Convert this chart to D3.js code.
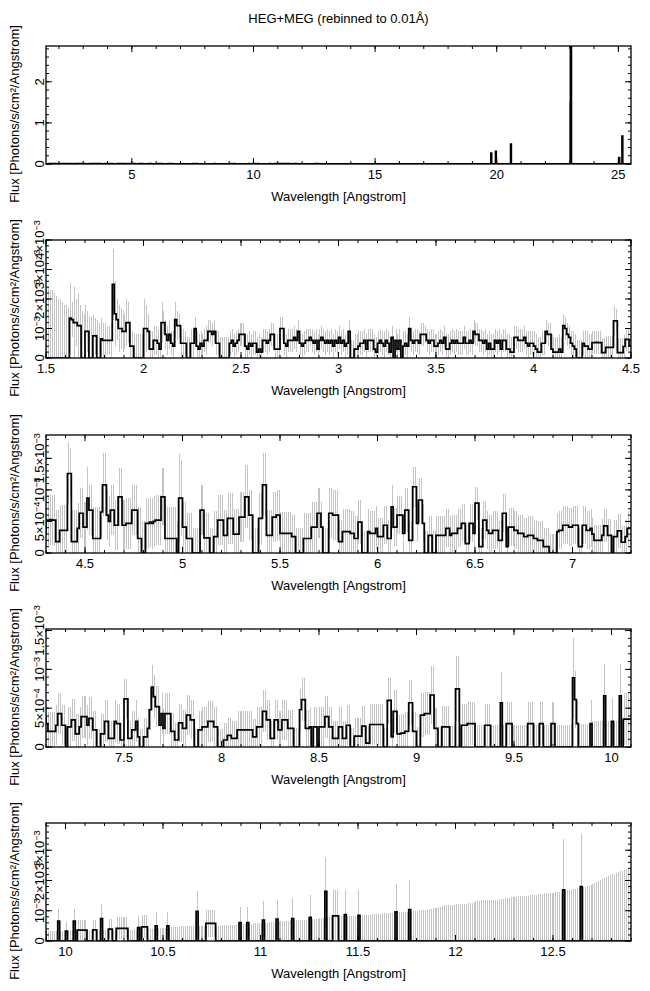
<!DOCTYPE html>
<html><head><meta charset="utf-8">
<script src="https://cdn.jsdelivr.net/npm/d3@7"></script>
<style>
body{margin:0;background:#fff}
svg{display:block}
text{font-family:"Liberation Sans",Arial,Helvetica,sans-serif;fill:#000}
</style>
</head><body>
<svg id="c" width="650" height="991"></svg>
<script>
// ---------------- DATA (flux and 1-sigma error, units of 1e-4 photons/s/cm^2/Angstrom) ----------------
const BIN = 0.01;
const UNIT = 1e-4;

// 1.50 – 4.29 Angstrom
const segAStart = 1.50;
const segAFlux = [
0,0,0,0,0,0,0,0,0,0, 0,0,13.5,13,12,12,11,11,0,0, 9,9,0,0,7.5,7.5,0,0,6.5,6, 6,6,6,6,25,15,13,10,10,9,
9,12,12,4,4,0,0,0,0,0, 10,10,9,3,3,6,6,5,3,12, 12,8,6,8,5,4,13,11,11,5, 5,5,0,0,5,5,10,4,3,5,
4,6,6,9,9,8,9,5,5,0, 0,0,0,0,5,6,4,5,6,8, 8,8,4,3,5,4,5,5,2,3, 2,6,6,5,6,8,8,3,3,3,
10,10,5,4,6,6,6,7,6,9, 5,4,5,6,6,7,6,5,6,3, 6,7,6,5,6,5,6,4,6,5, 7,5,6,4,5,9,0,0,3,3,
4,5,5,6,3,6,6,6,3,2, 5,6,5,4,6,5,2,7,0,6, 3,6,0,4,5,4,10,6,5,6, 6,5,8,8,8,6,5,6,6,4,
4,5,6,5,7,3,3,5,6,5, 6,5,5,5,7,5,5,6,5,9, 8,8,6,6,5,6,3,5,3,3, 6,5,6,3,6,6,3,3,2,2,
7,7,6,6,6,7,5,4,5,5, 4,3,2,2,5,5,9,8,8,3, 2,2,2,3,2,11,10,8,7,5, 4,3,0,0,0,5,4,4,3,3];
const segAErr = [
24,24,23,23,22,21,20,20,19,18, 18,17,12,6,12,8,11,7,16,15, 9,7,14,14,7,6,13,12,7,6, 6,5,5,6,12,11,7,8,7,7,
6,8,7,6,5,8,8,8,8,8, 10,8,6,6,6,5,5,5,6,7, 4,5,5,5,4,5,6,5,4,5, 5,4,7,7,5,5,4,5,5,4,
4,4,5,4,4,4,4,4,4,7, 7,7,7,7,4,4,4,4,4,4, 4,4,4,5,4,4,4,4,5,5, 5,4,4,4,4,4,4,5,5,5,
4,4,4,4,4,4,4,4,4,4, 4,4,4,4,4,3,4,4,4,5, 4,4,4,4,4,4,4,4,4,4, 4,4,4,4,4,4,6,6,5,5,
5,4,4,4,5,4,4,4,5,5, 4,4,4,5,4,4,5,4,6,4, 5,4,6,5,4,4,4,4,4,4, 4,4,4,4,3,4,4,4,4,4,
4,4,4,4,4,5,5,4,4,4, 4,4,4,4,4,4,4,4,4,4, 4,4,4,4,4,4,5,4,5,5, 4,4,4,5,4,4,5,5,5,5,
4,4,4,4,4,4,4,5,4,4, 5,5,5,5,4,4,4,4,4,5, 5,5,5,5,5,4,4,4,4,4, 5,5,6,6,6,4,5,5,5,5];

// 4.30 – 7.09 Angstrom
const segBStart = 4.30;
const segBFlux = [
5.2,5.2,5.3,5.2,5.2,1.8,1.8,3.6,3.6,3.6, 3.6,12.6,12.6,1.8,1.8,1.8,3.9,6.3,6.3,4.1,
4.1,8.7,6.8,6.8,2.3,2.3,2.3,2.3,6.5,10.8, 10.8,6,5,6.8,6.8,4.4,4.4,8.9,8.9,4.4,
4.4,4.7,4.7,4.7,6.8,6.8,6.8,2.3,2.3,0, 0,4.7,4.7,4.9,4.7,5,5.2,5.2,5.2,8.9,
8.9,2.3,2.3,2.3,2.3,2.3,2.3,0,8.7,8.7, 4.1,4.1,2.3,2.3,2.3,0,0,0,0,6.8,
6.8,2.4,2.4,2.4,0,0,2.6,2.6,5.2,5.2, 5.2,2.8,2.8,5.5,5.5,5.5,3,3,3,5.7,
5.7,5.7,8.9,8.9,6,6,0,0,0,5.5, 5.5,10.8,10.8,2.8,2.8,2.8,5.7,5.7,6,6,
3.1,3.1,3.1,3.1,3.1,3.1,2.6,2.6,0,0, 0,0,2.3,2.3,2.3,2.3,4.1,4.1,4.1,6.3,
6.3,4.1,0,0,0,6.3,6.3,6,6,6, 1.8,1.8,3.4,3.4,3.4,3.4,3.1,3.1,2.3,2.3,
4.9,4.9,0,0,0,3.4,3.1,3.1,3.1,3.9, 2.6,2.6,2.6,4.4,4.4,2.3,2.3,7.3,4.1,4.1,
6,6,6,3.1,6.8,6.8,2,2,10.5,10.5, 4.7,8.4,8.4,4.7,0,0,2.8,2.8,0,0,
2.8,2.8,2.8,2.8,2.8,3.9,3.9,2.8,3.1,3.1, 3.1,3.9,3.9,4.7,4.7,1.5,1.5,4.7,4.7,3.1,
7.9,7.9,1,1,5.2,5.2,3.6,3.1,3.1,3.6, 3.6,3.6,2,2,6.3,6.3,1,4.1,4.1,4.1,
3.6,3.6,3.1,3.1,3.1,2.6,2.6,2.8,2.8,2.8, 2.3,2.3,2,2,2,1,1,1,0,0,
0,0,3.4,3.6,3.6,4.4,4.4,4.4,4.1,4.1, 4.4,4.4,4.4,1,1,4.4,4.4,3.6,3.6,3.9];
const segBErr = [
4,4,4,4,4,5,5,4,4,4, 4,5,4,5,5,5,4,4,4,4, 4,5,4,4,5,5,5,5,4,5, 5,4,4,4,4,4,4,4.6,4.6,4,
4,4,4,4,4,4,4,5,5,5, 5,4,4,4,4,4,4,4,4,4.5, 4.5,5,5,5,5,5,5,5,7,6, 4,4,4,4,4,4,4,4,4,4,
4,4,4,4,4,4,4,4,4,4, 4,4,4,4,4,4,4,4,4,4, 4,4,5,5,4,4,4,4,4,4, 4,5,5,4,4,4,4,4,4,4,
3.4,3.4,3.4,3.4,3.4,3.4,3.5,3.5,4,4, 4,4,4,4,4,4,4,4,4,4, 4,4,4,4,4,4,4,4,4,4,
3.5,3.5,3.5,3.5,3.5,3.5,3.5,3.5,3.5,3.5, 3.5,3.5,3.5,3.5,3.5,3.5,3.5,3.5,3.5,3.5,
3,3,3,3,3,3,3,3.5,3,3, 3,3,3,3,3.5,3.5,3,3,3.2,3.2, 3,3.5,3.5,3,3.5,3.5,3,3,3.5,3.5,
3,3,3,3,3,3,3,3,3,3, 3,3,3,3,3,3,3,3,3,3, 2.6,2.6,3,3,3,3,3,3,3,3,
3,3,3,3,3,3,3,3,3,3, 3,3,3,3,3,3,3,3,3,3, 3,3,3,3,3,3,3,3,3,3,
3,3,3,3,3,3,3,3,3,3, 3,3,3,3,3,3,3,3,3,3];

// 7.10 – 9.89 Angstrom
const segCStart = 7.10;
const segCFlux = [
3,2,2,2,2,2.8,4.3,4.3,2.8,2.8, 0,2.6,2.6,3.5,3.5,1.7,1.7,2.6,3.9,3.9, 3.9,2.8,3.7,3.7,2.2,2.2,0,0,1.7,1.7,
3.3,3.3,1.1,1.1,1.1,3.3,3,3,0.9,0.9, 6.2,6.2,1.1,1.1,2.2,2.2,3.3,1.3,0,0, 1.3,1.3,2.4,4.8,7.7,6.5,5.2,5.2,2.8,4.3,
2.4,4.3,4.3,4.3,2,2,0.9,0.9,3.1,3.1, 2.4,2.4,4.1,4.1,3.5,3.5,0,0,2.2,2.2, 2.6,2.6,2.6,3.3,3.3,3.3,2.6,2.6,0,0,
0,0.9,0.9,1.5,1.5,1.1,1.1,1.1,2.2,2.2, 2.2,2.2,2.2,2.2,2.2,2.2,1.3,1.3,2.6,2.6, 2.6,4.6,4.6,3.5,3.5,1.1,1.1,3.5,3.5,2.2,
2.2,3.5,3.5,3.5,2.4,2.4,2.4,0,0,0, 4.8,6.1,6.1,2.4,2.4,2.6,0,2.6,2.6,0, 2.6,2.6,2.6,3.9,3.9,2.6,2.6,1.1,1.1,1.1,
2.6,2.6,1.1,1.1,2.8,2.8,0,0,1.4,1.4, 1.4,1.4,2.7,2.7,0.5,0.5,2.9,2.9,2.9,2.9, 2.9,2.9,2.9,0,0,6,6,1.3,4.6,4.6,
1.7,1.7,1.8,1.8,2,2,5.7,5.7,2,2, 0,0,4.1,4.1,4.3,4.3,4.3,6.7,6.7,2.4, 2.4,0,0,2.6,2.6,2.6,2.6,0,0,0,
7.5,7.5,0,2.8,2.8,2.8,3,3,3,3, 0,0,0,0,0,2.8,2.8,2.8,0,0, 0,0,0,5.7,0,0,3,3,3,0,
0,0,0,0,0,0,0,3,3,3, 0,0,0,3,3,0,0,0,0,3, 3,0,0,0,0,0,0,0,0,0, 8.9,6.1,3,0,0,0,0,0,0,3];
const segCErr = [
2.5,2.5,2.5,2.5,2.5,2.6,2.6,2.6,2.6,2.6, 2.3,2.6,2.6,2.7,2.7,2.5,2.5,2.6,2.7,2.7, 2.7,2.6,2.7,2.7,2.5,2.5,2.3,2.3,2.5,2.5,
2.7,2.7,2.3,2.3,2.3,2.7,2.6,2.6,2.2,2.2, 2.6,2.5,2.3,2.3,2.5,2.5,2.7,2.4,2.3,2.3, 2.4,2.4,2.5,2.8,2.9,2.8,2.6,2.6,2.5,2.6,
2.5,2.6,2.6,2.6,2.4,2.4,2.2,2.2,2.5,2.5, 2.4,2.4,2.6,2.6,2.5,2.5,2.3,2.3,2.4,2.4, 2.5,2.5,2.5,2.6,2.6,2.6,2.5,2.5,2.3,2.3,
2.3,2.2,2.2,2.3,2.3,2.2,2.2,2.2,2.4,2.4, 2.4,2.4,2.4,2.4,2.4,2.4,2.3,2.3,2.5,2.5, 2.5,2.7,2.7,2.6,2.6,2.3,2.3,2.6,2.6,2.4,
2.4,2.6,2.6,2.6,2.4,2.4,2.4,2.4,2.4,2.4, 2.7,2.8,2.8,2.4,2.4,2.5,2.4,2.5,2.5,2.4, 2.5,2.5,2.5,2.7,2.7,2.5,2.5,2.3,2.3,2.3,
2.5,2.5,2.3,2.3,2.6,2.6,2.4,2.4,2.3,2.3, 2.3,2.3,2.6,2.6,2.2,2.2,2.6,2.6,2.6,2.6, 2.6,2.6,2.6,2.5,2.5,2.9,2.9,2.3,2.8,2.8,
2.4,2.4,2.4,2.4,2.5,2.5,2.9,2.9,2.5,2.5, 2.6,2.6,2.8,2.8,2.8,2.8,2.8,3.7,3.7,2.6, 2.6,2.6,2.6,2.7,2.7,2.7,2.7,2.7,2.7,2.7,
4.2,4.2,2.7,2.7,2.7,2.7,2.8,2.8,2.8,2.8, 2.8,2.8,2.8,2.8,2.8,2.7,2.7,2.7,2.8,2.8, 2.8,2.8,2.8,3.9,2.8,2.8,2.8,2.8,2.8,2.8,
2.8,2.8,2.8,2.8,2.8,2.8,2.8,2.8,2.8,2.8, 2.8,2.8,2.8,2.8,2.8,2.8,2.8,2.8,2.8,2.8, 2.8,2.8,2.8,2.8,2.8,2.8,2.8,2.8,2.8,2.9,
5.1,3.7,2.9,2.9,2.9,2.9,2.9,2.9,2.9,3];

// 9.90 – 12.89 Angstrom
const segDStart = 9.90;
const segDFlux = [
0,0,0,0,0,0,6.6,0,0,0, 3.3,0,0,0,6.6,0,3.6,3.6,3.6,3.6, 3.6,0,0,0,3.7,3.7,0,0,7.4,0,
0,0,3.9,3.9,0,0,4.2,4.2,4.2,4.2, 4.2,4.2,0,0,0,0,0,4.4,0,4.7, 4.7,4.7,0,0,0,0,5,0,0,0,
0,0,5,0,0,0,0,0,0,0, 0,0,0,0,0,0,0,9.8,0,0, 0,0,5.8,5.8,5.8,5.8,5.8,0,0,0,
0,0,0,0,0,0,0,0,0,6.1, 0,0,0,6.1,0,0,0,0,0,0, 0,6.9,0,0,0,0,0,0,7.2,0,
0,0,0,0,0,0,7.4,0,0,0, 0,0,0,0,0,7.8,0,0,0,0, 0,0,0,16.4,0,0,0,8.3,8.3,8.3,
0,0,0,8.7,0,0,0,0,0,0, 8.5,0,0,0,0,0,0,0,0,0, 0,0,0,0,0,0,0,0,0,9.6,
0,0,0,0,0,0,10.4,0,0,0, 0,0,0,0,0,0,0,0,0,0, 0,0,0,0,0,0,0,0,0,0,
0,0,0,0,0,0,0,0,0,0, 0,0,0,0,0,0,0,0,0,0, 0,0,0,0,0,0,0,0,0,0,
0,0,0,0,0,0,0,0,0,0, 0,0,0,0,0,0,0,0,0,0, 0,0,0,0,0,16.9,0,0,0,0,
0,0,0,0,18,0,0,0,0,0, 0,0,0,0,0,0,0,0,0,0, 0,0,0,0,0,0,0,0,0,0];
const segDErr = [
3.3,3.3,3.3,3.3,3.3,3.3,4.1,3.3,3.4,3.4, 3.0,3.4,3.4,3.4,4.1,3.5,3.3,3.3,3.3,3.3, 3.3,3.5,3.5,3.6,3.3,3.3,3.6,3.6,4.9,3.6,
3.7,3.7,3.4,3.4,3.7,3.7,3.6,3.6,3.6,3.6, 3.6,3.6,3.8,3.8,3.8,3.9,3.9,3.7,3.9,3.8, 3.8,3.8,4.0,4.0,4.1,4.1,4.6,4.2,4.2,4.3,
4.3,4.4,4.5,4.4,4.5,4.6,4.7,4.7,4.7,4.8, 4.8,4.8,4.8,4.8,4.9,4.9,4.9,6.6,5.0,5.0, 5.0,5.0,4.4,4.4,4.4,4.4,4.4,5.1,5.1,5.2,
5.2,5.2,5.3,5.3,5.3,5.4,5.4,5.4,5.5,5.2, 5.5,5.6,5.6,5.1,5.7,5.7,5.8,5.8,5.9,5.9, 6.0,6.2,6.1,6.1,6.2,6.3,6.3,6.4,6.4,6.5,
6.5,6.6,6.6,6.7,6.7,6.8,6.9,6.8,6.9,6.9, 7.0,7.0,7.1,7.1,7.2,7.5,7.3,7.3,7.4,7.4, 7.5,7.6,7.7,11.5,8.0,8.1,8.2,8.4,8.4,8.4,
8.3,8.3,8.3,8.0,8.4,8.4,8.4,8.4,8.4,8.4, 8.2,8.5,8.5,8.5,8.6,8.6,8.7,8.8,8.8,8.9, 9.0,9.0,9.1,9.1,9.2,9.2,9.3,9.3,9.4,9.3,
9.4,9.5,9.5,9.6,9.6,9.7,9.9,9.8,9.9,10.0, 10.0,10.1,10.2,10.3,10.4,10.5,10.6,10.7,10.8,10.9, 11.0,11.1,11.2,11.5,11.8,11.9,12.0,12.0,12.0,12.0,
12.1,12.1,12.1,12.2,12.2,12.3,12.4,12.5,12.6,12.8, 13.2,13.3,13.3,13.4,13.4,13.4,13.5,13.5,13.5,13.6, 13.7,13.7,13.8,13.9,14.0,14.1,14.2,14.3,14.4,14.5,
14.6,14.7,14.8,14.8,14.9,14.9,15.0,15.0,15.1,15.1, 15.2,15.3,15.4,15.5,15.6,15.7,15.8,15.8,15.9,15.9, 16.0,16.1,16.2,16.3,16.4,16.8,16.6,16.7,16.8,16.9,
17.1,17.2,17.4,17.5,17.3,17.7,17.9,18.1,18.3,18.6, 19.0,19.2,19.5,19.8,20.1,20.4,20.8,21.1,21.4,21.7, 22.0,22.3,22.6,22.9,23.1,23.3,23.5,23.7,23.9,24.1];

// Strong lines seen in the full-range panel (photons/s/cm^2/Angstrom)
const lineWave = [19.77, 19.96, 20.58, 23.03, 23.04, 23.05, 25.03, 25.16];
const lineFlux = [0.26, 0.30, 0.48, 1.5, 2.87, 2.87, 0.15, 0.67];
const fullStart = 1.50, fullEnd = 25.50;

// Panel axes
const xDomains = [[1.47, 25.52], [1.5, 4.5], [4.3, 7.3], [7.1, 10.1], [9.9, 12.9]];
const yMax = [2.87, 4.0e-3, 1.87e-3, 1.52e-3, 3.9e-3];
const xTickVals = [[5,10,15,20,25],[1.5,2,2.5,3,3.5,4,4.5],[4.5,5,5.5,6,6.5,7],[7.5,8,8.5,9,9.5,10],[10,10.5,11,11.5,12,12.5]];
const xTickLabels = [["5","10","15","20","25"],["1.5","2","2.5","3","3.5","4","4.5"],["4.5","5","5.5","6","6.5","7"],["7.5","8","8.5","9","9.5","10"],["10","10.5","11","11.5","12","12.5"]];
const xMinorStep = [1, 0.1, 0.1, 0.1, 0.1];
const yTickVals = [[0,1,2],[0,1e-3,2e-3,3e-3,4e-3],[0,5e-4,1e-3,1.5e-3],[0,5e-4,1e-3,1.5e-3],[0,1e-3,2e-3,3e-3]];
const yTickLabels = [["0","1","2"],["0","10^\u22123","2\u00d710^\u22123","3\u00d710^\u22123","4\u00d710^\u22123"],
  ["0","5\u00d710^\u22124","10^\u22123","1.5\u00d710^\u22123"],["0","5\u00d710^\u22124","10^\u22123","1.5\u00d710^\u22123"],
  ["0","10^\u22123","2\u00d710^\u22123","3\u00d710^\u22123"]];
const yMinorStep = [0.2, 2e-4, 1e-4, 1e-4, 2e-4];
const titleText = "HEG+MEG (rebinned to 0.01\u00c5)";
const xLabelText = "Wavelength [Angstrom]";
const yLabelText = "Flux [Photons/s/cm\u00b2/Angstrom]";

// ---------------- BUILD ----------------
const r2 = v => Math.round(v * 100) / 100;
const spectrum = [];
[[segAStart, segAFlux, segAErr],[segBStart, segBFlux, segBErr],[segCStart, segCFlux, segCErr],[segDStart, segDFlux, segDErr]]
  .forEach(([s, f, e]) => f.forEach((v, i) => spectrum.push({w: r2(s + i * BIN), f: v * UNIT, e: e[i] * UNIT})));
const specMap = new Map(spectrum.map(b => [b.w.toFixed(2), b]));
const lineMap = new Map(lineWave.map((w, i) => [w.toFixed(2), lineFlux[i]]));
const fullBins = d3.range(Math.round((fullEnd - fullStart) / BIN)).map(i => {
  const w = r2(fullStart + i * BIN), k = w.toFixed(2);
  if (lineMap.has(k)) return {w, f: lineMap.get(k), e: 0};
  if (specMap.has(k)) return specMap.get(k);
  return {w, f: 0, e: 0};
});

const svg = d3.select("#c");
const L = 46, R = 631, PH = 118;
const tops = [46, 240, 435, 629, 823];
const FS = 13;

svg.append("text").attr("x", (L + R) / 2).attr("y", 23).attr("text-anchor", "middle")
  .attr("font-size", FS).text(titleText);

function addLabel(g, str, x, y) {
  const t = g.append("text").attr("transform", `translate(${x},${y}) rotate(-90)`)
    .attr("text-anchor", "middle").attr("font-size", FS);
  const parts = str.split("^");
  t.append("tspan").text(parts[0]);
  if (parts[1]) t.append("tspan").attr("dy", "-0.45em").attr("font-size", FS * 0.7).text(parts[1]);
}

xDomains.forEach((dom, p) => {
  const top = tops[p], bot = top + PH;
  const x = d3.scaleLinear().domain(dom).range([L, R]);
  const y = d3.scaleLinear().domain([0, yMax[p]]).range([bot, top]);
  const g = svg.append("g");
  const cid = "clip" + p;
  g.append("clipPath").attr("id", cid).append("rect")
    .attr("x", L).attr("y", top).attr("width", R - L).attr("height", PH);
  const bins = (p === 0 ? fullBins : spectrum).filter(b => b.w + BIN > dom[0] - 1e-9 && b.w < dom[1] - 1e-9);
  const plot = g.append("g").attr("clip-path", `url(#${cid})`);

  // error bars
  plot.append("g").attr("stroke", "#c4c4c4").attr("stroke-width", 1).attr("shape-rendering", "crispEdges")
    .selectAll("line").data(bins.filter(b => b.e > 0)).join("line")
    .attr("x1", b => x(b.w + BIN / 2)).attr("x2", b => x(b.w + BIN / 2))
    .attr("y1", b => y(Math.max(0, b.f - b.e))).attr("y2", b => y(b.f + b.e));

  // step histogram
  let d = "";
  bins.forEach((b, i) => {
    const yy = y(b.f);
    d += (i === 0 ? `M${x(b.w)},${yy}` : `V${yy}`) + `H${x(b.w + BIN)}`;
  });
  plot.append("path").attr("d", d).attr("fill", "none").attr("stroke", "#000")
    .attr("stroke-width", p === 0 ? 2.2 : 1.7).attr("stroke-linejoin", "miter");

  // frame
  g.append("rect").attr("x", L).attr("y", top).attr("width", R - L).attr("height", PH)
    .attr("fill", "none").attr("stroke", "#000").attr("stroke-width", 1.3);

  // ticks
  const tg = g.append("g").attr("stroke", "#000").attr("stroke-width", 1);
  const xMinor = d3.range(Math.ceil(dom[0] / xMinorStep[p] - 1e-6), Math.floor(dom[1] / xMinorStep[p] + 1e-6) + 1)
    .map(k => k * xMinorStep[p]);
  xMinor.forEach(v => {
    const xx = x(v);
    tg.append("line").attr("x1", xx).attr("x2", xx).attr("y1", bot).attr("y2", bot - 3);
    tg.append("line").attr("x1", xx).attr("x2", xx).attr("y1", top).attr("y2", top + 3);
  });
  xTickVals[p].forEach((v, i) => {
    const xx = x(v);
    tg.append("line").attr("x1", xx).attr("x2", xx).attr("y1", bot).attr("y2", bot - 6);
    tg.append("line").attr("x1", xx).attr("x2", xx).attr("y1", top).attr("y2", top + 6);
    g.append("text").attr("x", xx).attr("y", bot + 15).attr("text-anchor", "middle")
      .attr("font-size", FS).text(xTickLabels[p][i]);
  });
  const yMinor = d3.range(0, Math.floor(yMax[p] / yMinorStep[p] + 1e-6) + 1).map(k => k * yMinorStep[p]);
  yMinor.forEach(v => {
    const yy = y(v);
    tg.append("line").attr("x1", L).attr("x2", L + 3).attr("y1", yy).attr("y2", yy);
    tg.append("line").attr("x1", R).attr("x2", R - 3).attr("y1", yy).attr("y2", yy);
  });
  yTickVals[p].forEach((v, i) => {
    const yy = y(v);
    tg.append("line").attr("x1", L).attr("x2", L + 6).attr("y1", yy).attr("y2", yy);
    tg.append("line").attr("x1", R).attr("x2", R - 6).attr("y1", yy).attr("y2", yy);
    addLabel(g, yTickLabels[p][i], 44, yy);
  });

  // axis titles
  g.append("text").attr("x", (L + R) / 2).attr("y", bot + 37).attr("text-anchor", "middle")
    .attr("font-size", FS).text(xLabelText);
  g.append("text").attr("transform", `translate(19,${(top + bot) / 2 + 9}) rotate(-90)`)
    .attr("text-anchor", "middle").attr("font-size", FS).text(yLabelText);
});
</script>
</body></html>
